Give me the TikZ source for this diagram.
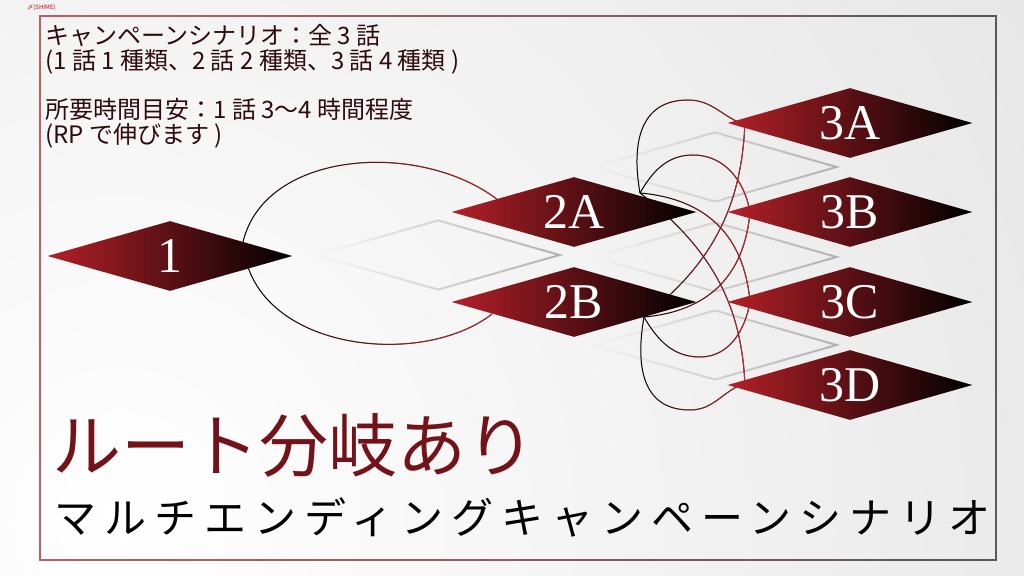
\documentclass[tikz,border=0pt]{standalone}
\usepackage{fontspec}
\usepackage{tikz}
\usetikzlibrary{shapes.geometric}
\usetikzlibrary{fadings}
\usetikzlibrary{calc}
\newfontfamily\cjk{Noto Sans CJK JP}
\newfontfamily\cjkwide[LetterSpace=19]{Noto Sans CJK JP}
\newfontfamily\lbl{Liberation Serif}
\definecolor{dkred}{RGB}{180,32,40}
\definecolor{lnred}{RGB}{195,45,50}
\definecolor{inkred}{RGB}{45,10,12}
\definecolor{titred}{RGB}{115,18,24}
\definecolor{frred}{RGB}{190,95,100}
\tikzset{
    route/.style={shape=diamond, aspect=3.5, minimum width=122.5pt, minimum height=35pt,
        inner sep=0pt, left color=dkred, right color=black, text=white,
        font=\lbl\fontsize{25}{25}\selectfont},
    ghost/.style={shape=diamond, aspect=3.5, minimum width=122pt, minimum height=35pt,
        inner sep=0pt, draw=black!30, line width=1pt, path fading=west},
    link/.style={draw=black, line width=0.5pt, postaction={draw=lnred, path fading=west}},
    info/.style={anchor=north west, inner sep=0pt, align=left, text=inkred,
        font=\cjk\fontsize{12}{12.5}\selectfont}}

\begin{document}
\begin{tikzpicture}[x=0.5pt, y=0.5pt]
    \useasboundingbox (0,0) rectangle (1024,-576);
    \begin{scope}
        \clip (0,0) rectangle (1024,-576);
        \shade[inner color=white, outer color=black!19] (120,-520) circle (2100);
    \end{scope}
    \draw[frred, line width=0.7pt, postaction={draw=black!65, path fading=west}] (40,-16) rectangle (996,-560);
    \node[anchor=west, inner sep=0pt, text=red!75!black, font=\cjk\fontsize{3}{3}\selectfont] (sig) at (27,-8) {〆(SHIME)};

    % shadows
    \node[ghost] (g1) at (438,-255) {};
    \node[ghost] (g2) at (715,-167) {};
    \node[ghost] (g3) at (715,-257) {};
    \node[ghost] (g4) at (715,-345) {};

    % positions of the routes (drawn later, on top of the links)
    \path (170,-256) coordinate (p1) (574,-212) coordinate (p2A) (574,-302) coordinate (p2B)
          (850,-123) coordinate (p3A) (850,-212) coordinate (p3B) (850,-302) coordinate (p3C) (850,-385) coordinate (p3D);
    \coordinate (s1) at ($(p1)+(73,14)$);
    \coordinate (a) at ($(p2A)+(66,19)$);
    \coordinate (b) at ($(p2B)+(70,-15)$);

    \draw[link] (s1) .. controls (265,-150) and (420,-140) .. ($(p2A)+(-76,12)$);
    \draw[link] (s1) .. controls (250,-350) and (420,-370) .. ($(p2B)+(-82,-12)$);

    % 2A to 3A--3D
    \draw[link] (a) to[out=100,in=180,looseness=1.2] (688,-100) to[out=0,in=160] ($(p3A)+(-105,-2)$);
    \draw[link] (a) to[out=60,in=180] (693,-155) to[out=0,in=100] ($(p3B)+(-100,0)$);
    \draw[link] (a) to[out=-5,in=95,looseness=1.1] ($(p3C)+(-100,0)$);
    \draw[link] (a) to[out=-38,in=92] ($(p3D)+(-105,-2)$);
    % 2B to 3A--3D
    \draw[link] (b) to[out=38,in=-92] ($(p3A)+(-105,2)$);
    \draw[link] (b) to[out=5,in=-95,looseness=1.1] ($(p3B)+(-100,0)$);
    \draw[link] (b) to[out=-60,in=180] (700,-357) to[out=0,in=-100] ($(p3C)+(-100,0)$);
    \draw[link] (b) to[out=-100,in=180,looseness=1.2] (690,-410) to[out=0,in=-160] ($(p3D)+(-105,2)$);

    \node[route] (n1) at (p1) {1};
    \node[route] (n2A) at (p2A) {2A};
    \node[route] (n2B) at (p2B) {2B};
    \node[route] (n3A) at (p3A) {3A};
    \node[route] (n3B) at (p3B) {3B};
    \node[route] (n3C) at (p3C) {3C};
    \node[route] (n3D) at (p3D) {3D};

    \node[info] (info1) at (45,-24) {キャンペーンシナリオ：全 3 話\\(1 話 1 種類、2 話 2 種類、3 話 4 種類 )};
    \node[info] (info2) at (45,-98) {所要時間目安：1 話 3〜4 時間程度\\(RP で伸びます )};

    \node[anchor=west, inner sep=0pt, text=titred, font=\cjk\fontsize{34.5}{34.5}\selectfont] (title) at (52,-445) {ルート分岐あり};
    \node[anchor=west, inner sep=0pt, font=\cjkwide\fontsize{21}{21}\selectfont] (sub) at (54,-518) {マルチエンディングキャンペーンシナリオ};
\end{tikzpicture}
\end{document}
